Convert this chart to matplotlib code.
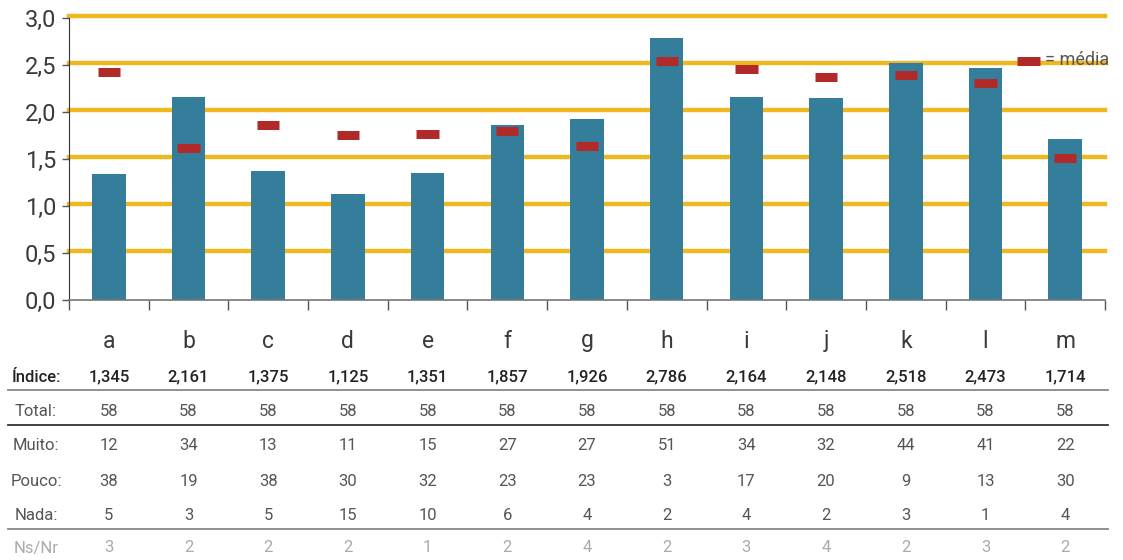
import matplotlib
matplotlib.use("Agg")
import matplotlib.pyplot as plt
from matplotlib.lines import Line2D
from matplotlib.transforms import blended_transform_factory

categories = ["a", "b", "c", "d", "e", "f", "g", "h", "i", "j", "k", "l", "m"]
indice = [1.345, 2.161, 1.375, 1.125, 1.351, 1.857, 1.926, 2.786, 2.164, 2.148, 2.518, 2.473, 1.714]
media = [2.43, 1.62, 1.86, 1.76, 1.77, 1.80, 1.64, 2.54, 2.46, 2.37, 2.39, 2.31, 1.51]
total = [58] * 13
muito = [12, 34, 13, 11, 15, 27, 27, 51, 34, 32, 44, 41, 22]
pouco = [38, 19, 38, 30, 32, 23, 23, 3, 17, 20, 9, 13, 30]
nada = [5, 3, 5, 15, 10, 6, 4, 2, 4, 2, 3, 1, 4]
nsnr = [3, 2, 2, 2, 1, 2, 4, 2, 3, 4, 2, 3, 2]
yticks = [0.0, 0.5, 1.0, 1.5, 2.0, 2.5, 3.0]

BAR = "#357e9b"
RED = "#b02a2a"
YEL = "#f0b820"
TXT = "#3a3a3a"

plt.rcParams['font.family'] = ['Roboto', 'DejaVu Sans']

W, H = 1123, 560
fig = plt.figure(figsize=(W / 100, H / 100), dpi=100)
ax = fig.add_axes([69 / W, 1 - 300 / H, (1105 - 69) / W, (300 - 18) / H])

x = list(range(len(categories)))
for yv in yticks[1:]:
    ax.axhline(yv + 0.02, color=YEL, lw=3.2, zorder=1, clip_on=False)
ax.bar(x, indice, width=0.42, color=BAR, zorder=2)
for xi, m in zip(x, media):
    ax.plot([xi - 0.14, xi + 0.14], [m, m], color=RED, lw=6.5, solid_capstyle="butt", zorder=3)

ax.set_xlim(-0.5, len(categories) - 0.5)
ax.set_ylim(0, 3.0)
ax.set_yticks(yticks)
ax.set_yticklabels([f"{v:.1f}".replace(".", ",") for v in yticks], fontsize=17, color=TXT)
ax.set_xticks([i - 0.5 for i in range(len(categories) + 1)])
ax.set_xticklabels([])
ax.tick_params(axis="x", length=7, color="#555555", width=1)
ax.tick_params(axis="y", length=5, color="#555555", width=1, pad=4)
for s in ["top", "right"]:
    ax.spines[s].set_visible(False)
ax.spines["left"].set_color("#333333")
ax.spines["bottom"].set_color("#777777")
ax.spines["bottom"].set_linewidth(1.2)

# legend
ax.plot([1017 / W, 1040 / W], [1 - 61 / H, 1 - 61 / H], transform=fig.transFigure, color=RED, lw=6.5,
        solid_capstyle="butt", clip_on=False, zorder=5)
fig.text(1045 / W, 1 - 60 / H, "= média", fontsize=13, color="#555555", va="center", ha="left")

# table
tr = blended_transform_factory(ax.transData, fig.transFigure)

def row(vals, ypix, size, color, weight="normal", label=None, lcolor=None):
    for xi, v in zip(x, vals):
        ax.text(xi, 1 - ypix / H, v, transform=tr, ha="center", va="center", fontsize=size,
                color=color, fontweight=weight, clip_on=False)
    if label:
        fig.text(36 / W, 1 - ypix / H, label, ha="center", va="center", fontsize=size,
                 color=lcolor or color, fontweight=weight)

row(categories, 341, 16.5, TXT)
row([f"{v:.3f}".replace(".", ",") for v in indice], 377, 12, "#222222", "medium", "Índice:")
row([str(v) for v in total], 411, 12, "#555555", "normal", "Total:")
row([str(v) for v in muito], 446, 12, "#555555", "normal", "Muito:")
row([str(v) for v in pouco], 481, 12, "#555555", "normal", "Pouco:")
row([str(v) for v in nada], 516, 12, "#555555", "normal", "Nada:")
row([str(v) for v in nsnr], 548, 12, "#aaaaaa", "normal", "Ns/Nr")

for ypix, col in [(390, "#888888"), (425, "#333333"), (529, "#888888")]:
    fig.add_artist(Line2D([8 / W, 1108 / W], [1 - ypix / H, 1 - ypix / H], color=col, lw=1.3,
                          transform=fig.transFigure))

fig.savefig("out.png", dpi=100)
